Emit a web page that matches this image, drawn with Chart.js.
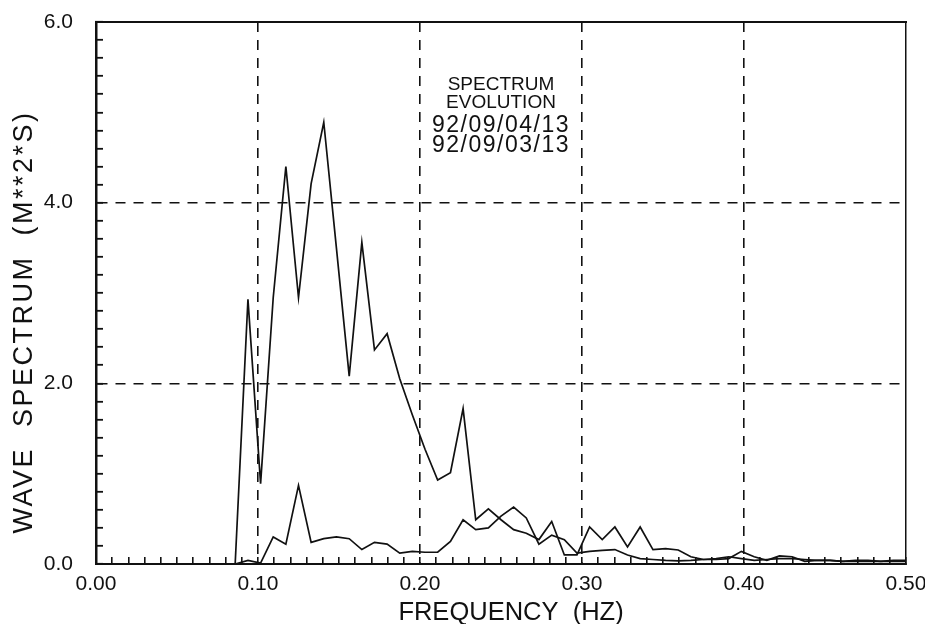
<!DOCTYPE html>
<html lang="en">
<head>
<meta charset="UTF-8">
<title>Wave Spectrum Evolution</title>
<script src="https://cdn.jsdelivr.net/npm/chart.js"></script>
<style>
  body { margin: 0; background: #fff; }
  #wrap { width: 925px; height: 624px; }
</style>
</head>
<body>
<div id="wrap"><canvas id="spectrumChart"></canvas></div>
<script>
// frequency bins (Hz)
const frequencies = [
  0.0859, 0.0938, 0.1016, 0.1094, 0.1172, 0.1250, 0.1328, 0.1406, 0.1484, 0.1563,
  0.1641, 0.1719, 0.1797, 0.1875, 0.1953, 0.2031, 0.2109, 0.2188, 0.2266, 0.2344,
  0.2422, 0.2500, 0.2578, 0.2656, 0.2734, 0.2813, 0.2891, 0.2969, 0.3047, 0.3125,
  0.3203, 0.3281, 0.3359, 0.3438, 0.3516, 0.3594, 0.3672, 0.3750, 0.3828, 0.3906,
  0.3984, 0.4063, 0.4141, 0.4219, 0.4297, 0.4375, 0.4453, 0.4531, 0.4609, 0.4688,
  0.4766, 0.4844, 0.4922, 0.5000
];

// large spectrum (M**2*S)
const spectrumLarge = [
  0.00, 2.93, 0.89, 2.95, 4.40, 2.95, 4.21, 4.89, 3.50, 2.08,
  3.56, 2.37, 2.55, 2.05, 1.65, 1.27, 0.93, 1.01, 1.72, 0.49,
  0.61, 0.49, 0.38, 0.34, 0.27, 0.47, 0.10, 0.10, 0.41, 0.27,
  0.41, 0.19, 0.41, 0.16, 0.17, 0.155, 0.08, 0.05, 0.05, 0.06,
  0.14, 0.08, 0.04, 0.09, 0.08, 0.03, 0.04, 0.04, 0.03, 0.04,
  0.04, 0.03, 0.04, 0.04
];

// small spectrum (M**2*S)
const spectrumSmall = [
  0.00, 0.04, 0.01, 0.30, 0.22, 0.87, 0.24, 0.28, 0.30, 0.28,
  0.16, 0.24, 0.22, 0.12, 0.14, 0.13, 0.13, 0.25, 0.49, 0.38,
  0.40, 0.53, 0.63, 0.51, 0.22, 0.32, 0.27, 0.12, 0.14, 0.15,
  0.16, 0.10, 0.06, 0.05, 0.04, 0.035, 0.04, 0.05, 0.06, 0.08,
  0.06, 0.04, 0.05, 0.06, 0.06, 0.05, 0.04, 0.04, 0.03, 0.03,
  0.03, 0.03, 0.03, 0.03
];

const xTickLabels = ['0.00', '0.10', '0.20', '0.30', '0.40', '0.50'];
const yTickLabels = ['0.0', '2.0', '4.0', '6.0'];
const noteLines = ['SPECTRUM', 'EVOLUTION', '92/09/04/13', '92/09/03/13'];
const xTitle = 'FREQUENCY  (HZ)';
const yTitle = 'WAVE  SPECTRUM  (M**2*S)';

const ink = '#111';
const font = '"Liberation Sans", Arial, sans-serif';

const toPoints = vals => vals.map((v, i) => ({ x: frequencies[i], y: v }));

// labels at every 0.10 Hz, minor ticks at every 0.01 Hz
const xMajor = v => Math.round(v * 100) % 10 === 0;
const yMajor = v => Math.round(v * 10) % 20 === 0;

const textPlugin = {
  id: 'plotText',
  afterDraw(chart) {
    const ctx = chart.ctx;
    const area = chart.chartArea;
    const xs = chart.scales.x;
    const ys = chart.scales.y;
    ctx.save();
    ctx.fillStyle = ink;
    ctx.textAlign = 'center';
    ctx.textBaseline = 'alphabetic';

    // note block in the upper middle
    const nx = xs.getPixelForValue(0.25);
    const ny = ys.getPixelForValue(5.25);
    const offsets = [0, 18, 42, 62];
    noteLines.forEach((line, i) => {
      ctx.font = (i < 2 ? '19px ' : '23px ') + font;
      ctx.letterSpacing = i < 2 ? '0px' : '1.5px';
      ctx.fillText(line, nx, ny + offsets[i]);
    });

    // axis titles
    ctx.letterSpacing = '0px';
    ctx.font = '25.5px ' + font;
    ctx.fillText(xTitle, (area.left + area.right) / 2 + 10, 620);

    ctx.letterSpacing = '2.5px';
    ctx.font = '27px ' + font;
    ctx.translate(32, 322);
    ctx.rotate(-Math.PI / 2);
    ctx.fillText(yTitle, 0, 0);
    ctx.restore();
  }
};

const ctx = document.getElementById('spectrumChart').getContext('2d');
const chart = new Chart(ctx, {
  type: 'line',
  data: {
    datasets: [
      {
        label: 'large',
        data: toPoints(spectrumLarge),
        borderColor: ink,
        borderWidth: 1.7,
        pointRadius: 0,
        tension: 0,
        fill: false,
        xAxisID: 'x',
        yAxisID: 'y'
      },
      {
        label: 'small',
        data: toPoints(spectrumSmall),
        borderColor: ink,
        borderWidth: 1.7,
        pointRadius: 0,
        tension: 0,
        fill: false,
        xAxisID: 'x',
        yAxisID: 'y'
      }
    ]
  },
  options: {
    responsive: true,
    maintainAspectRatio: false,
    animation: false,
    layout: { padding: { left: 0, right: 0, top: 22, bottom: 0 } },
    plugins: {
      legend: { display: false },
      tooltip: { enabled: false }
    },
    scales: {
      x: {
        type: 'linear',
        position: 'bottom',
        min: 0,
        max: 0.5,
        afterFit: s => { s.height = 60; s.paddingLeft = 0; s.paddingRight = 0; },
        ticks: {
          stepSize: 0.01,
          autoSkip: false,
          maxRotation: 0,
          padding: 15,
          color: ink,
          font: { family: font, size: 21 },
          callback: v => xMajor(v) ? xTickLabels[Math.round(v * 10)] : ''
        },
        grid: {
          color: c => (xMajor(c.tick.value) && c.tick.value > 0.001 && c.tick.value < 0.499) ? ink : 'transparent',
          lineWidth: 1.6,
          tickLength: -7,
          tickColor: ink,
          tickWidth: 1.6
        },
        border: { color: ink, width: 2, dash: [10, 8] }
      },
      y: {
        type: 'linear',
        position: 'left',
        min: 0,
        max: 6,
        afterFit: s => { s.width = 96; s.paddingTop = 0; s.paddingBottom = 0; },
        ticks: {
          stepSize: 0.2,
          autoSkip: false,
          padding: 30,
          color: ink,
          font: { family: font, size: 21 },
          callback: v => yMajor(v) ? yTickLabels[Math.round(v / 2)] : ''
        },
        grid: {
          color: c => (yMajor(c.tick.value) && c.tick.value > 0.01 && c.tick.value < 5.99) ? ink : 'transparent',
          lineWidth: 1.6,
          tickLength: -7,
          tickColor: ink,
          tickWidth: 1.8
        },
        border: { color: ink, width: 2.5, dash: [10, 8] }
      },
      x2: {
        type: 'linear',
        position: 'top',
        min: 0,
        max: 0.5,
        afterFit: s => { s.height = 0; s.paddingLeft = 0; s.paddingRight = 0; },
        ticks: { display: false },
        grid: { drawOnChartArea: false, drawTicks: false },
        border: { color: ink, width: 2 }
      },
      y2: {
        type: 'linear',
        position: 'right',
        min: 0,
        max: 6,
        afterFit: s => { s.width = 19; s.paddingTop = 0; s.paddingBottom = 0; },
        ticks: { display: false },
        grid: { drawOnChartArea: false, drawTicks: false },
        border: { color: ink, width: 1.5 }
      }
    }
  },
  plugins: [textPlugin]
});
</script>
</body>
</html>
